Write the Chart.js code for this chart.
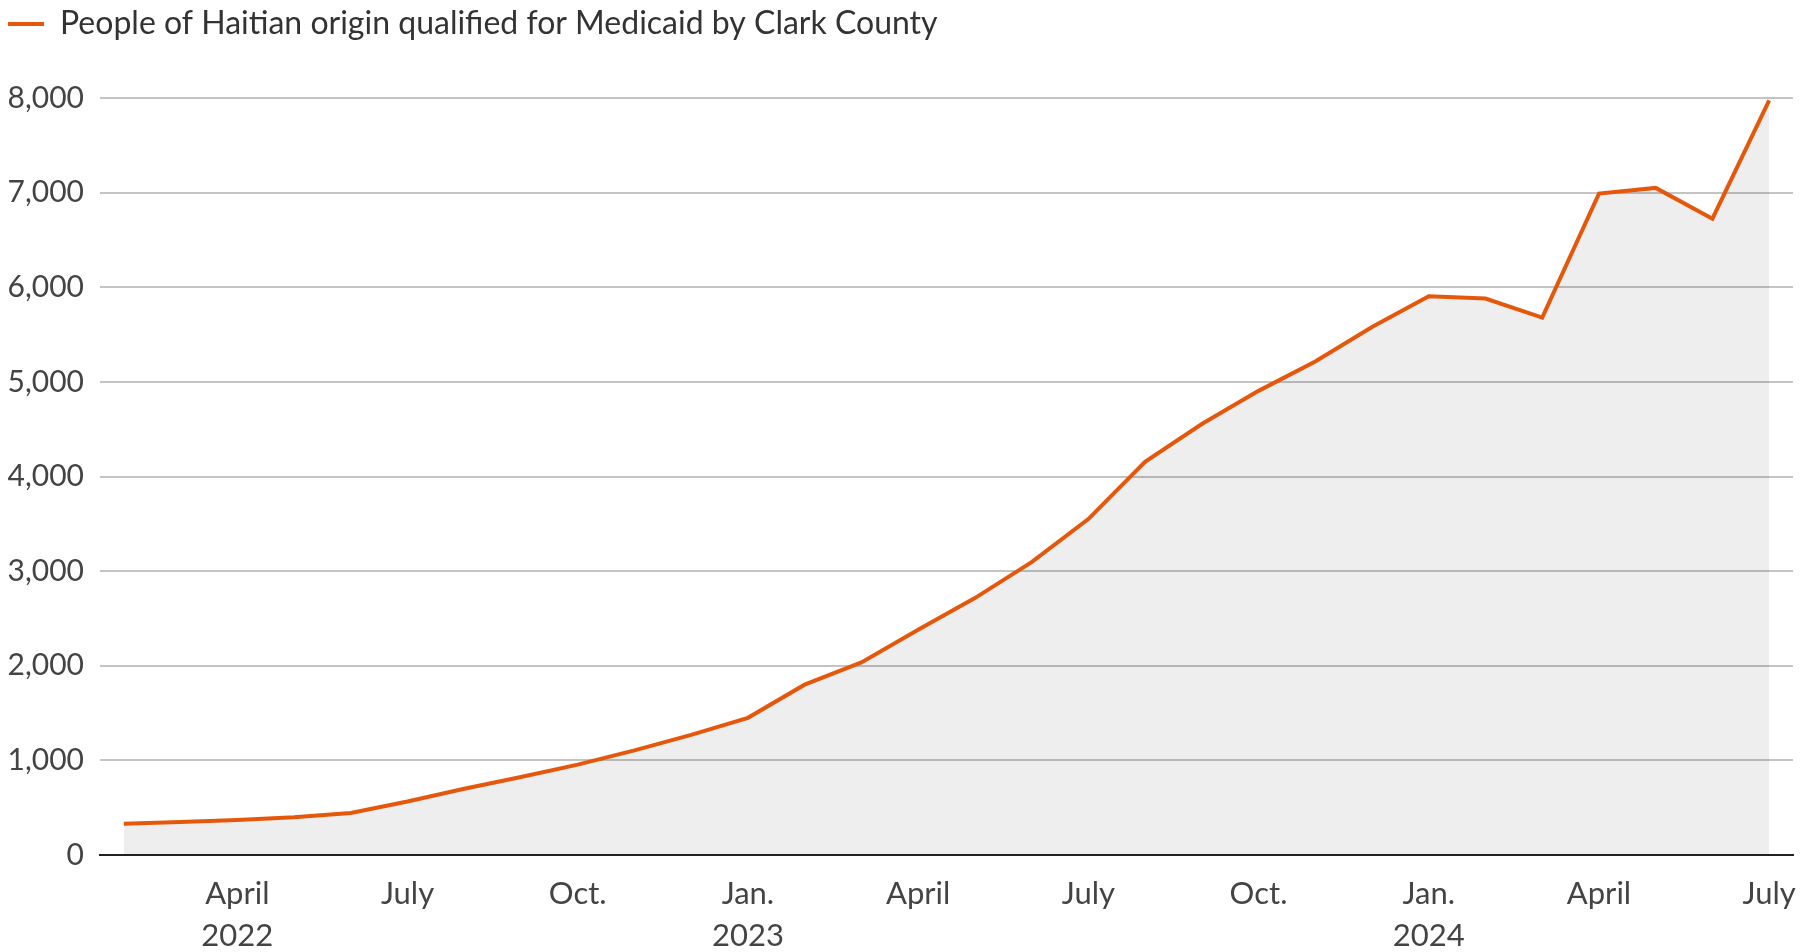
<!DOCTYPE html>
<html>
<head>
<meta charset="utf-8">
<script src="https://cdn.jsdelivr.net/npm/chart.js@4"></script>
<style>
  html, body { margin: 0; padding: 0; background: #fff; }
  #wrap { width: 1801px; height: 952px; position: relative; }
</style>
</head>
<body>
<div id="wrap"><canvas id="chart"></canvas></div>
<script>
// monthly counts, Feb 2022 .. July 2024
const months = ['Feb 2022','Mar 2022','Apr 2022','May 2022','Jun 2022','Jul 2022','Aug 2022','Sep 2022','Oct 2022','Nov 2022','Dec 2022',
  'Jan 2023','Feb 2023','Mar 2023','Apr 2023','May 2023','Jun 2023','Jul 2023','Aug 2023','Sep 2023','Oct 2023','Nov 2023','Dec 2023',
  'Jan 2024','Feb 2024','Mar 2024','Apr 2024','May 2024','Jun 2024','Jul 2024'];
const qualified = [330, 350, 370, 400, 445, 565, 700, 825, 955, 1105, 1270,
  1450, 1800, 2035, 2380, 2715, 3095, 3550, 4155, 4555, 4905, 5215, 5580,
  5905, 5880, 5680, 6990, 7050, 6725, 7975];
const tickMonths = ['Apr 2022','Jul 2022','Oct 2022','Jan 2023','Apr 2023','Jul 2023','Oct 2023','Jan 2024','Apr 2024','Jul 2024'];
const tickLabels = [['April','2022'],'July','Oct.',['Jan.','2023'],'April','July','Oct.',['Jan.','2024'],'April','July'];
const yTicks = [0, 1000, 2000, 3000, 4000, 5000, 6000, 7000, 8000];

const FONT = 'Lato, "Noto Sans", sans-serif';
const tickIdx = tickMonths.map(m => months.indexOf(m));

// leave room under the legend like the original
const legendSpace = {
  id: 'legendSpace',
  beforeInit(chart) {
    const fit = chart.legend.fit;
    chart.legend.fit = function () {
      fit.call(this);
      this.height = 98;
    };
  }
};

new Chart(document.getElementById('chart').getContext('2d'), {
  type: 'line',
  data: {
    datasets: [{
      label: 'People of Haitian origin qualified for Medicaid by Clark County',
      data: qualified.map((v, i) => ({ x: i, y: v })),
      borderColor: '#e5580c',
      backgroundColor: 'rgba(0,0,0,0.065)',
      borderWidth: 4,
      fill: 'origin',
      pointRadius: 0,
      tension: 0
    }]
  },
  plugins: [legendSpace],
  options: {
    responsive: true,
    maintainAspectRatio: false,
    animation: false,
    layout: { padding: { left: 0, right: 8, top: 0, bottom: 0 } },
    plugins: {
      tooltip: { enabled: false },
      legend: {
        position: 'top',
        align: 'start',
        labels: {
          usePointStyle: true,
          pointStyle: 'line',
          pointStyleWidth: 36,
          padding: 8,
          color: '#333',
          font: { family: FONT, size: 32 }
        }
      }
    },
    scales: {
      x: {
        type: 'linear',
        min: -0.42,
        max: months.length - 1 + 0.42,
        afterBuildTicks: axis => { axis.ticks = tickIdx.map(v => ({ value: v })); },
        afterFit: axis => { axis.height = 97; axis.paddingRight = 0; axis.paddingLeft = 0; },
        grid: { display: false, drawTicks: false },
        border: { display: true, color: '#222', width: 2 },
        ticks: {
          autoSkip: false,
          maxRotation: 0,
          padding: 18,
          color: '#444',
          font: { family: FONT, size: 31, lineHeight: 1.35 },
          callback: v => tickLabels[tickIdx.indexOf(v)]
        }
      },
      y: {
        min: 0,
        max: 8000,
        afterBuildTicks: axis => { axis.ticks = yTicks.map(v => ({ value: v })); },
        afterFit: axis => { axis.width = 100; },
        grid: { color: '#c4c4c4', lineWidth: 2, drawTicks: false },
        border: { display: false },
        ticks: {
          padding: 16,
          color: '#444',
          font: { family: FONT, size: 30 },
          callback: v => v.toLocaleString('en-US')
        }
      }
    }
  }
});
</script>
</body>
</html>
